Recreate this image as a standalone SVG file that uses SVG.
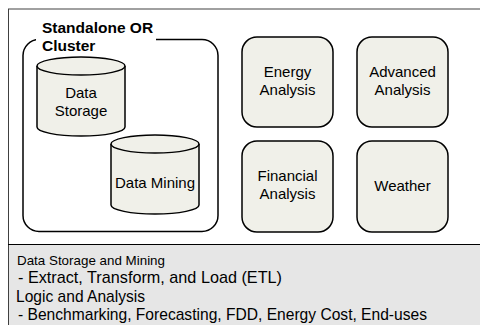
<svg xmlns="http://www.w3.org/2000/svg" width="480" height="325" viewBox="0 0 480 325">
<style>
text{font-family:"Liberation Sans",Arial,sans-serif;fill:#000}
.lbl{font-size:15px;text-anchor:middle}
.box{fill:#f0f0e9;stroke:#000;stroke-width:1.5}
.bt{font-size:15.7px}
</style>
<rect x="0" y="0" width="480" height="325" fill="#fff"/>
<rect x="8" y="244" width="480" height="90" fill="#e6e6e6"/>
<line x1="8" y1="9" x2="480" y2="9" stroke="#808080" stroke-width="1.5"/>
<line x1="8.5" y1="9" x2="8.5" y2="325" stroke="#404040" stroke-width="1"/>
<line x1="8" y1="244.5" x2="480" y2="244.5" stroke="#000" stroke-width="1"/>
<g id="cluster">
<rect x="23" y="39.5" width="195" height="192" rx="16" fill="none" stroke="#000" stroke-width="1.5"/>
<rect x="36" y="30" width="120" height="14" fill="#fff"/>
<text x="42" y="33" font-size="15.5" font-weight="bold">Standalone OR</text>
<text x="42" y="51" font-size="15.5" font-weight="bold">Cluster</text>
</g>
<g id="data-storage">
<path d="M37,66 v61 a44,9 0 0 0 88,0 v-61" class="box"/>
<ellipse cx="81" cy="66" rx="44" ry="9" class="box"/>
<text x="81" y="98" class="lbl">Data</text>
<text x="81" y="116" class="lbl">Storage</text>
</g>
<g id="data-mining">
<path d="M111,144 v61 a44,9 0 0 0 88,0 v-61" class="box"/>
<ellipse cx="155" cy="144" rx="44" ry="9" class="box"/>
<text x="155" y="188" class="lbl">Data Mining</text>
</g>
<g id="energy-analysis">
<rect x="242" y="37" width="91" height="90" rx="15" class="box"/>
<text x="287.5" y="77" class="lbl">Energy</text>
<text x="287.5" y="95" class="lbl">Analysis</text>
</g>
<g id="advanced-analysis">
<rect x="357" y="37" width="91" height="90" rx="15" class="box"/>
<text x="402.5" y="77" class="lbl">Advanced</text>
<text x="402.5" y="95" class="lbl">Analysis</text>
</g>
<g id="financial-analysis">
<rect x="242" y="141" width="91" height="91" rx="15" class="box"/>
<text x="287.5" y="181" class="lbl">Financial</text>
<text x="287.5" y="199" class="lbl">Analysis</text>
</g>
<g id="weather">
<rect x="357" y="141" width="91" height="91" rx="15" class="box"/>
<text x="402.5" y="191" class="lbl">Weather</text>
</g>
<g id="connectors"></g>
<g id="notes">
<text x="17" y="265" font-size="13.5" textLength="148" lengthAdjust="spacingAndGlyphs">Data Storage and Mining</text>
<text x="18" y="283" class="bt" textLength="264" lengthAdjust="spacingAndGlyphs">- Extract, Transform, and Load (ETL)</text>
<text x="16" y="302" class="bt" textLength="129" lengthAdjust="spacingAndGlyphs">Logic and Analysis</text>
<text x="18" y="320" class="bt" textLength="409" lengthAdjust="spacingAndGlyphs">- Benchmarking, Forecasting, FDD, Energy Cost, End-uses</text>
</g>
</svg>
